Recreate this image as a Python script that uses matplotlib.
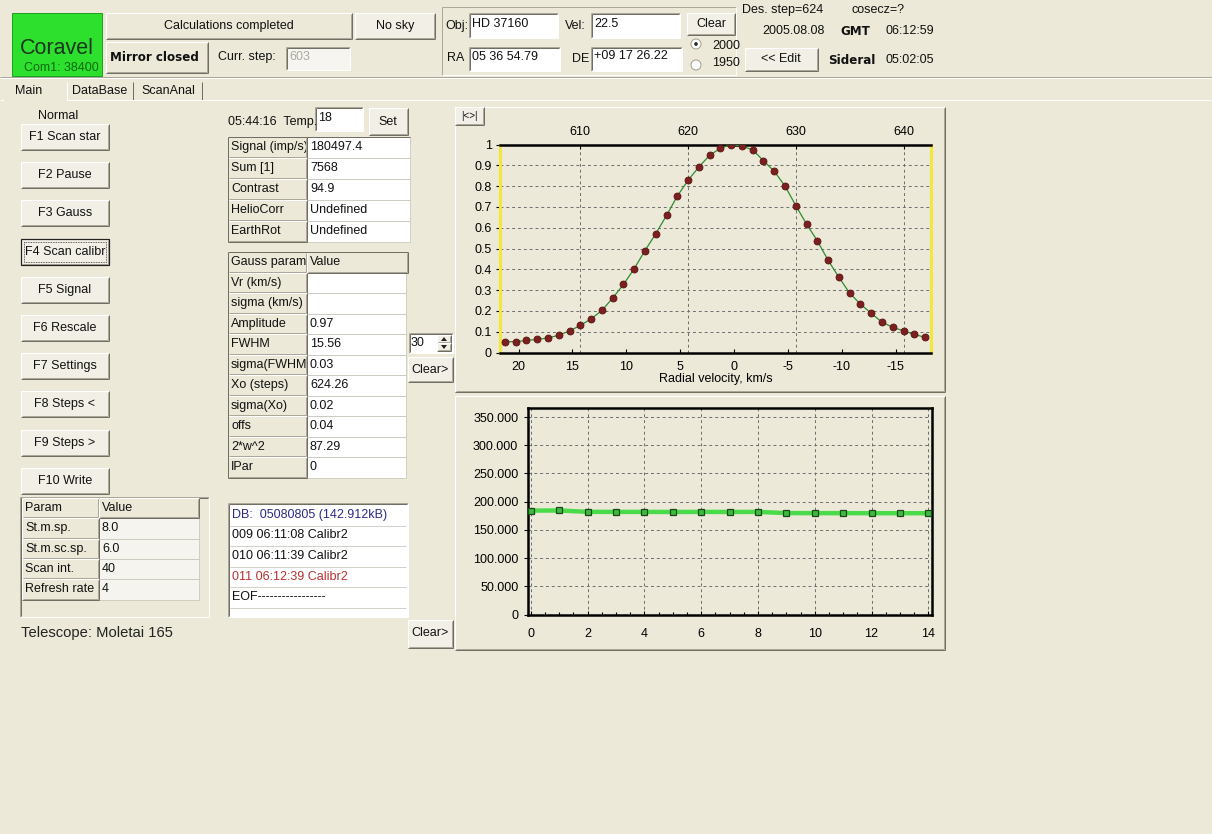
import matplotlib
matplotlib.use('Agg')
import matplotlib.pyplot as plt
from matplotlib.patches import Rectangle, Circle, Polygon
from matplotlib.transforms import Bbox
from matplotlib.ticker import FuncFormatter, MultipleLocator
import numpy as np

plt.rcParams['font.family'] = ['Liberation Sans', 'DejaVu Sans']
plt.rcParams['axes.unicode_minus'] = False

# ---------------- data ----------------
scan_steps = list(range(603, 643))
scan_flux = [0.052, 0.052, 0.058, 0.063, 0.070, 0.083, 0.104, 0.130, 0.162, 0.202,
             0.262, 0.327, 0.403, 0.490, 0.571, 0.659, 0.752, 0.828, 0.892, 0.948,
             0.982, 1.000, 0.992, 0.974, 0.922, 0.871, 0.800, 0.706, 0.617, 0.537,
             0.443, 0.362, 0.285, 0.233, 0.188, 0.146, 0.121, 0.104, 0.087, 0.073]
gauss_x0 = 624.26
step_ticks = [610, 620, 630, 640]
vel_ticks = [20, 15, 10, 5, 0, -5, -10, -15]
flux_ticks = [0, 0.1, 0.2, 0.3, 0.4, 0.5, 0.6, 0.7, 0.8, 0.9, 1.0]

calib_index = list(range(15))
calib_signal = [184200, 184400, 182000, 181900, 181900, 181800, 181900, 181800,
                181900, 179800, 179700, 179700, 179600, 179600, 179500]
signal_ticks = [0, 50000, 100000, 150000, 200000, 250000, 300000, 350000]
index_ticks = [0, 2, 4, 6, 8, 10, 12, 14]

buttons = ['F1 Scan star', 'F2 Pause', 'F3 Gauss', 'F4 Scan calibr', 'F5 Signal',
           'F6 Rescale', 'F7 Settings', 'F8 Steps <', 'F9 Steps >', 'F10 Write']
param_names = ['St.m.sp.', 'St.m.sc.sp.', 'Scan int.', 'Refresh rate']
param_values = ['8.0', '6.0', '40', '4']
info_names = ['Signal (imp/s)', 'Sum [1]', 'Contrast', 'HelioCorr', 'EarthRot']
info_values = ['180497.4', '7568', '94.9', 'Undefined', 'Undefined']
gauss_names = ['Vr (km/s)', 'sigma (km/s)', 'Amplitude', 'FWHM', 'sigma(FWHM)',
               'Xo (steps)', 'sigma(Xo)', 'offs', '2*w^2', 'IPar']
gauss_values = ['', '', '0.97', '15.56', '0.03', '624.26', '0.02', '0.04', '87.29', '0']
db_rows = ['DB:  05080805 (142.912kB)', '009 06:11:08 Calibr2', '010 06:11:39 Calibr2',
           '011 06:12:39 Calibr2', 'EOF-----------------']
db_colors = ['#2A2A8A', '#111111', '#111111', '#B83030', '#111111']

# ---------------- styles ----------------
W, H = 1212, 834
BG = '#ECE9D8'
BTN = '#F1EFE6'
DK = '#716F64'
MID = '#ACA899'
FS = 9

fig = plt.figure(figsize=(W / 100, H / 100), dpi=100)
fig.patch.set_facecolor(BG)
bg = fig.add_axes([0, 0, 1, 1])
bg.set_xlim(0, W)
bg.set_ylim(H, 0)
bg.axis('off')


def line(x0, y0, x1, y1, c, lw=1.0, z=3, ls='-'):
    bg.plot([x0, x1], [y0, y1], color=c, lw=lw * 0.72, solid_capstyle='butt',
            zorder=z, ls=ls)


def box(x0, y0, x1, y1, fc, ec='none', lw=1.0, z=2):
    bg.add_patch(Rectangle((x0, y0), x1 - x0, y1 - y0, facecolor=fc, edgecolor=ec,
                           lw=lw * 0.72, zorder=z))


def raised(x0, y0, x1, y1, fc=BTN, z=2):
    box(x0, y0, x1, y1, fc, z=z)
    line(x0, y0, x1, y0, 'white', z=z + 0.1)
    line(x0, y0, x0, y1, 'white', z=z + 0.1)
    line(x0, y1, x1, y1, DK, z=z + 0.1)
    line(x1, y0, x1, y1, DK, z=z + 0.1)
    line(x0 + 1, y1 - 1, x1 - 1, y1 - 1, MID, z=z + 0.1)
    line(x1 - 1, y0 + 1, x1 - 1, y1 - 1, MID, z=z + 0.1)


def sunken(x0, y0, x1, y1, fc='white', z=2):
    box(x0, y0, x1, y1, fc, z=z)
    line(x0, y0, x1, y0, MID, z=z + 0.1)
    line(x0, y0, x0, y1, MID, z=z + 0.1)
    line(x0 + 1, y0 + 1, x1 - 1, y0 + 1, DK, z=z + 0.1)
    line(x0 + 1, y0 + 1, x0 + 1, y1 - 1, DK, z=z + 0.1)
    line(x0, y1, x1, y1, 'white', z=z + 0.1)
    line(x1, y0, x1, y1, 'white', z=z + 0.1)


def T(x, y, s, size=FS, ha='left', va='center', color='#111111', weight='normal',
      family=None, clip=None, z=5):
    kw = {}
    if family:
        kw['family'] = family
    t = bg.text(x, y, s, fontsize=size, ha=ha, va=va, color=color, fontweight=weight,
                zorder=z, **kw)
    if clip is not None:
        x0, y0, x1, y1 = clip
        t.set_clip_box(Bbox.from_extents(x0, H - y1, x1, H - y0))
        t.set_clip_on(True)
    return t


# ---------------- header ----------------
box(12, 13, 102, 76, '#2DE02D', ec='#1FA01F')
T(57, 48, 'Coravel', size=15.5, ha='center', color='#1C361C')
T(61, 68, 'Com1: 38400', size=9, ha='center', color='#0E6A0E')

raised(106, 13, 352, 39, fc=BG)
T(229, 26, 'Calculations completed', ha='center')
raised(355, 13, 435, 39)
T(395, 26, 'No sky', ha='center')
raised(106, 42, 208, 73, fc=BG)
T(110, 57, 'Mirror closed', size=8.6, weight='bold', family=['DejaVu Sans'])
T(218, 57, 'Curr. step:')
sunken(286, 47, 350, 70, fc='#F6F5F0')
T(289, 57, '603', color='#A8A8A0')

# etched group box
line(442, 7, 736, 7, MID); line(442, 7, 442, 75, MID)
line(442, 75, 736, 75, 'white'); line(736, 7, 736, 75, 'white')
T(445, 26, 'Obj:')
sunken(469, 13, 558, 38)
T(472, 24, 'HD 37160')
T(565, 26, 'Vel:')
sunken(591, 13, 680, 38)
T(594, 24, '22.5')
raised(687, 13, 735, 35)
T(711, 24, 'Clear', ha='center')
T(447, 58, 'RA')
sunken(469, 47, 560, 71)
T(472, 57, '05 36 54.79')
T(572, 59, 'DE')
sunken(591, 47, 682, 71)
T(594, 56, '+09 17 26.22')
bg.add_patch(Circle((696, 44), 5, facecolor='white', edgecolor=MID, lw=0.8, zorder=4))
bg.add_patch(Circle((696, 44), 1.8, facecolor='#222222', edgecolor='none', zorder=5))
bg.add_patch(Circle((696, 65), 5, facecolor='white', edgecolor=MID, lw=0.8, zorder=4))
T(712, 46, '2000')
T(712, 63, '1950')

T(742, 10, 'Des. step=624')
T(852, 10, 'cosecz=?')
T(762, 31, '2005.08.08')
T(840, 31, 'GMT', size=8.6, weight='bold', family=['DejaVu Sans'])
T(885, 31, '06:12:59')
raised(745, 48, 818, 71)
T(781, 59, '<< Edit', ha='center')
T(828, 60, 'Sideral', size=8.6, weight='bold', family=['DejaVu Sans'])
T(885, 60, '05:02:05')

line(0, 77, W, 77, MID)
line(0, 78, W, 78, 'white')

# ---------------- tabs ----------------
T(15, 91, 'Main')
line(67, 82, 67, 100, 'white')
line(133, 82, 133, 100, DK)
line(202, 82, 202, 100, DK)
T(72, 91, 'DataBase')
T(141, 91, 'ScanAnal')
line(67, 100, W, 100, 'white')
line(0, 100, 4, 100, 'white')

# ---------------- left column ----------------
T(58, 116, 'Normal', ha='center')
for i, b in enumerate(buttons):
    yc = 137 + 38.2 * i
    y0, y1 = yc - 13, yc + 13
    raised(21, y0, 109, y1)
    if b.startswith('F4'):
        box(21, y0, 109, y1, 'none', ec='#222222', lw=1.2, z=3)
        bg.add_patch(Rectangle((24, y0 + 3), 82, 20, facecolor='none', edgecolor='#333333',
                               lw=0.6, ls=(0, (1, 1)), zorder=4))
    T(65, yc, b, ha='center', clip=(23, y0, 107, y1))

# param table
sunken(20, 497, 209, 617, fc=BG)
rh = 20.3
top = 498
rows_p = [('Param', 'Value')] + list(zip(param_names, param_values))
for r, (n, v) in enumerate(rows_p):
    y0 = top + r * rh
    y1 = y0 + rh
    raised(22, y0, 99, y1, fc=BG)
    if r == 0:
        raised(99, y0, 199, y1, fc=BG)
    else:
        box(99, y0, 199, y1, '#F5F4EE', ec='#C8C6B8', lw=0.8)
    T(25, (y0 + y1) / 2, n, clip=(22, y0, 98, y1))
    T(102, (y0 + y1) / 2, v)

T(21, 633, 'Telescope: Moletai 165', size=10.6, color='#222222')

# ---------------- middle column ----------------
T(228, 122, '05:44:16  Temp.')
sunken(315, 107, 363, 131)
T(318, 118, '18')
raised(369, 108, 408, 135)
T(388, 122, 'Set', ha='center')

# info table
rh1 = 20.9
for r, (n, v) in enumerate(zip(info_names, info_values)):
    y0 = 137 + r * rh1
    y1 = y0 + rh1
    raised(228, y0, 307, y1, fc=BG)
    box(307, y0, 410, y1, 'white', ec='#C8C6B8', lw=0.8)
    T(231, (y0 + y1) / 2, n, clip=(228, y0, 306, y1))
    T(310, (y0 + y1) / 2, v)
line(228, 137, 410, 137, DK)
line(228, 137, 228, 241.5, DK)

# gauss table
rh2 = 20.5
rows_g = [('Gauss param', 'Value')] + list(zip(gauss_names, gauss_values))
for r, (n, v) in enumerate(rows_g):
    y0 = 252 + r * rh2
    y1 = y0 + rh2
    raised(228, y0, 307, y1, fc=BG)
    if r == 0:
        raised(307, y0, 408, y1, fc=BG)
    else:
        box(307, y0, 406, y1, 'white', ec='#C8C6B8', lw=0.8)
    T(231, (y0 + y1) / 2, n, clip=(228, y0, 306, y1))
    T(310, (y0 + y1) / 2, v)
line(228, 252, 408, 252, DK)
line(228, 252, 228, 477.5, DK)

# spinner and clear
sunken(409, 333, 453, 353)
T(411, 343, '30')
raised(437, 335, 451, 343)
raised(437, 343, 451, 351)
bg.add_patch(Polygon([[441, 341], [447, 341], [444, 337]], closed=True, fc='#222222', zorder=5))
bg.add_patch(Polygon([[441, 345], [447, 345], [444, 349]], closed=True, fc='#222222', zorder=5))
raised(408, 357, 453, 382)
T(430, 370, 'Clear>', ha='center')

# DB list
sunken(228, 503, 408, 617)
for r, (s, c) in enumerate(zip(db_rows, db_colors)):
    yc = 515 + 20.5 * r
    T(232, yc, s, color=c, clip=(230, yc - 10, 406, yc + 10))
    line(230, yc + 10.5, 406, yc + 10.5, '#D4D2C8')
raised(408, 620, 453, 648)
T(430, 633, 'Clear>', ha='center')

# ---------------- chart panels ----------------
raised(455, 107, 945, 392, fc=BG, z=1)
raised(455, 396, 945, 650, fc=BG, z=1)
raised(455, 107, 484, 125)
T(469.5, 116, '|<>|', size=7, ha='center')


def add_ax(x0, y0, x1, y1):
    return fig.add_axes([x0 / W, (H - y1) / H, (x1 - x0) / W, (y1 - y0) / H])


grid_kw = dict(color='#6E6E6E', lw=0.7, ls=(0, (3, 3)))

# top chart: normalised scan profile
ax1 = add_ax(500, 144.5, 931, 352.5)
ax1.set_facecolor(BG)
ax1.set_xlim(602.54, 642.55)
ax1.set_ylim(0, 1)
ax1.plot(scan_steps, scan_flux, color='#2E8B2E', lw=0.9, zorder=3)
ax1.plot(scan_steps, scan_flux, ls='none', marker='o', ms=5.0, mfc='#7C1F1F',
         mec='#5A1212', mew=0.6, zorder=4)
ax1.set_yticks(flux_ticks)
ax1.yaxis.set_major_formatter(FuncFormatter(lambda v, p: f'{v:g}'))
ax1.xaxis.tick_top()
ax1.set_xticks(step_ticks)
ax1.grid(True, **grid_kw)
for s in ['top', 'bottom']:
    ax1.spines[s].set_color('black')
    ax1.spines[s].set_linewidth(1.8)
for s in ['left', 'right']:
    ax1.spines[s].set_color('#F3E63C')
    ax1.spines[s].set_linewidth(2.2)
ax1.tick_params(axis='y', labelsize=FS, length=3, width=0.8, pad=3)
ax1.tick_params(axis='x', labelsize=FS, length=3, width=0.8, pad=5, direction='in')
sec = ax1.secondary_xaxis('bottom', functions=(lambda s: gauss_x0 - s,
                                               lambda v: gauss_x0 - v))
sec.set_xticks(vel_ticks)
sec.tick_params(labelsize=FS, length=3, width=0.8, pad=6, direction='in')
sec.spines['bottom'].set_visible(False)
sec.set_xlabel('Radial velocity, km/s', fontsize=FS, labelpad=0)

# bottom chart: calibration signal
ax2 = add_ax(528, 407.5, 932, 614.5)
ax2.set_facecolor(BG)
ax2.set_xlim(-0.1, 14.13)
ax2.set_ylim(0, 367000)
ax2.plot(calib_index, calib_signal, color='#4ADB4A', lw=3.2, zorder=3)
ax2.plot(calib_index, calib_signal, ls='none', marker='s', ms=4.6, mfc='#3DBB3D',
         mec='#1A471A', mew=0.9, zorder=4)
ax2.set_xticks(index_ticks)
ax2.set_yticks(signal_ticks)
ax2.yaxis.set_major_formatter(FuncFormatter(lambda v, p: '0' if v == 0 else f'{v / 1000:.3f}'))
ax2.xaxis.set_minor_locator(MultipleLocator(0.5))
ax2.grid(True, **grid_kw)
for s in ax2.spines.values():
    s.set_color('black')
    s.set_linewidth(1.8)
ax2.tick_params(axis='y', labelsize=FS, length=3, width=0.8, pad=4)
ax2.tick_params(axis='x', which='both', direction='in', labelsize=FS, length=3,
                width=0.8, pad=10)
ax2.tick_params(axis='x', which='minor', length=2)

fig.savefig('out.png', dpi=100, facecolor=BG)
